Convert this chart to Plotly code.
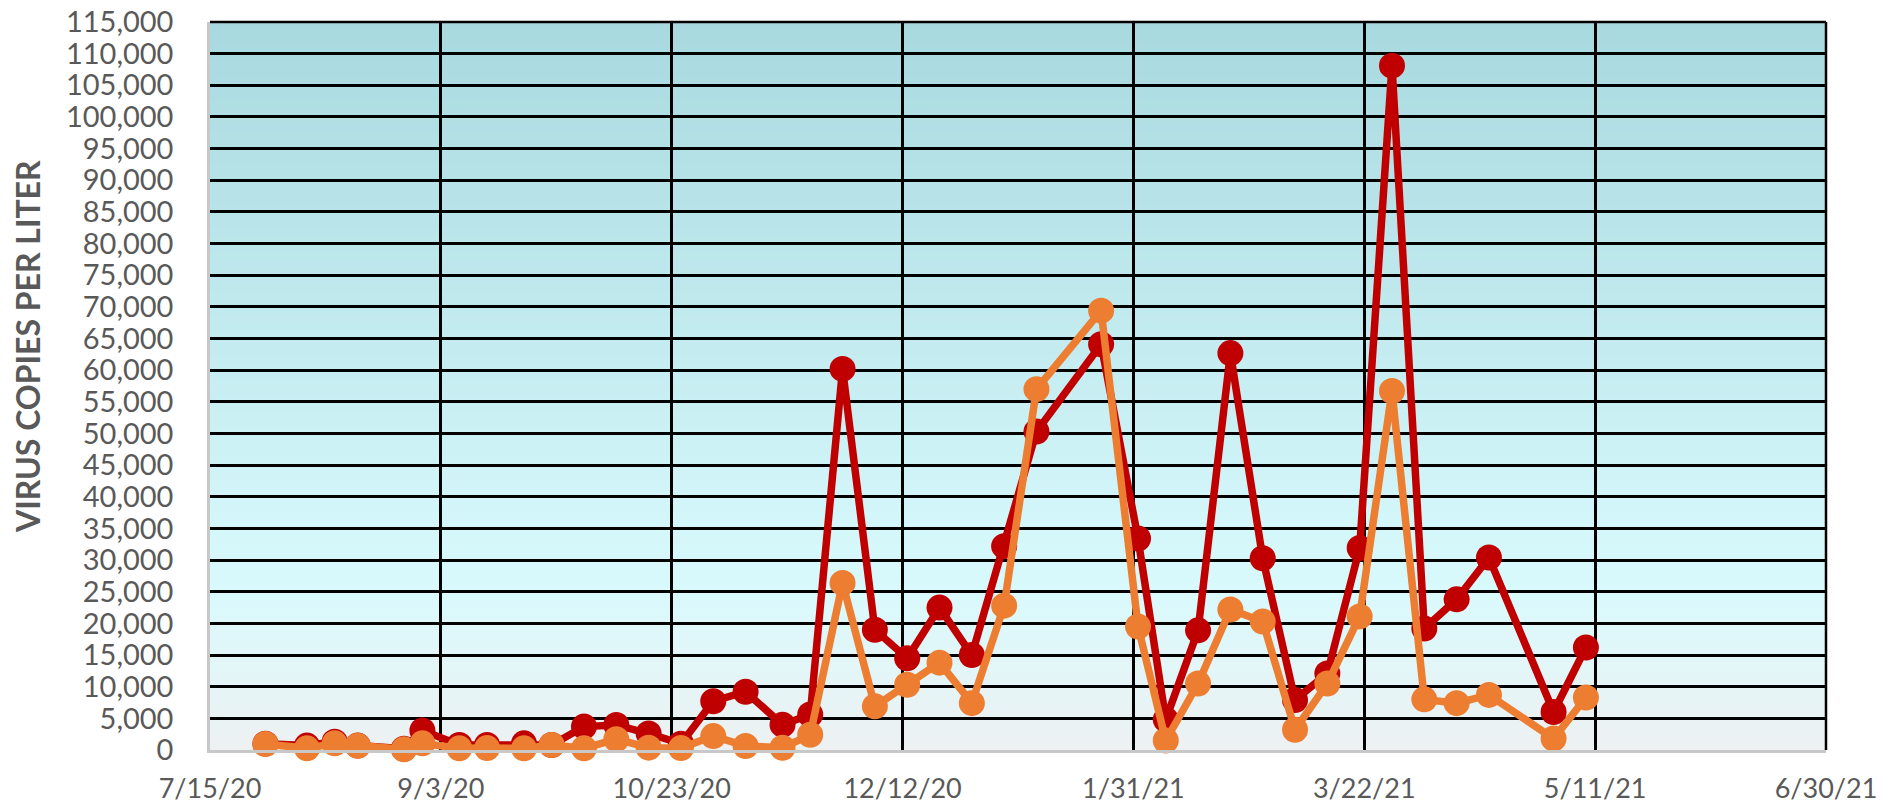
import plotly.graph_objects as go

# ---- data ----
dates = ["2020-07-27", "2020-08-05", "2020-08-11", "2020-08-16", "2020-08-26", "2020-08-30",
         "2020-09-07", "2020-09-13", "2020-09-21", "2020-09-27", "2020-10-04", "2020-10-11",
         "2020-10-18", "2020-10-25", "2020-11-01", "2020-11-08", "2020-11-16", "2020-11-22",
         "2020-11-29", "2020-12-06", "2020-12-13", "2020-12-20", "2020-12-27", "2021-01-03",
         "2021-01-10", "2021-01-24", "2021-02-01", "2021-02-07", "2021-02-14", "2021-02-21",
         "2021-02-28", "2021-03-07", "2021-03-14", "2021-03-21", "2021-03-28", "2021-04-04",
         "2021-04-11", "2021-04-18", "2021-05-02", "2021-05-09"]

series_red = [1000, 700, 1300, 700, 200, 3100, 800, 800, 1050, 800, 3700, 3950,
              2600, 1000, 7700, 9200, 4000, 5600, 60200, 19000, 14500, 22500, 15000, 32200,
              50300, 64100, 33400, 4800, 18900, 62700, 30300, 7900, 12100, 31900, 108100, 19200,
              23800, 30400, 6000, 16200]

series_orange = [950, 260, 1050, 680, 100, 1050, 260, 300, 260, 800, 260, 1700,
                 370, 300, 2200, 630, 360, 2400, 26400, 6900, 10300, 13800, 7400, 22800,
                 57000, 69400, 19500, 1500, 10500, 22200, 20300, 3200, 10500, 21100, 56700, 8000,
                 7400, 8700, 1800, 8300]

x_tick_vals = ["2020-07-15", "2020-09-03", "2020-10-23", "2020-12-12",
               "2021-01-31", "2021-03-22", "2021-05-11", "2021-06-30"]
x_tick_text = ["7/15/20", "9/3/20", "10/23/20", "12/12/20", "1/31/21", "3/22/21", "5/11/21", "6/30/21"]

y_max = 115000
y_step = 5000
y_title = "VIRUS COPIES PER LITER"

# ---- styles ----
RED = "#C00000"
ORANGE = "#ED7D31"
TXT = "#595959"
FONT = "Lato"


def hex2rgb(h):
    h = h.lstrip("#")
    return tuple(int(h[i:i + 2], 16) for i in (0, 2, 4))


grad_stops = [(0.0, hex2rgb("#EEF1F2")), (0.22, hex2rgb("#D9FAFD")), (1.0, hex2rgb("#A8D9DF"))]


def grad_color(t):
    for (t0, c0), (t1, c1) in zip(grad_stops[:-1], grad_stops[1:]):
        if t0 <= t <= t1:
            f = (t - t0) / (t1 - t0)
            c = tuple(round(a + (b - a) * f) for a, b in zip(c0, c1))
            return "rgb(%d,%d,%d)" % c
    return "rgb(%d,%d,%d)" % grad_stops[-1][1]


shapes = []
n_bands = 92
for i in range(n_bands):
    y0 = y_max * i / n_bands
    y1 = min(y_max, y_max * (i + 1.6) / n_bands)  # overlap to avoid seams
    shapes.append(dict(type="rect", xref="paper", yref="y", x0=0, x1=1, y0=y0, y1=y1,
                       fillcolor=grad_color((i + 0.5) / n_bands), line=dict(width=0), layer="below"))
# top and right black border
shapes.append(dict(type="line", xref="paper", yref="paper", x0=0, x1=1, y0=1, y1=1,
                   line=dict(color="black", width=2.5), layer="above"))
shapes.append(dict(type="line", xref="paper", yref="paper", x0=1, x1=1, y0=0, y1=1,
                   line=dict(color="black", width=2.5), layer="above"))

fig = go.Figure()
fig.add_trace(go.Scatter(x=dates, y=series_red, mode="lines+markers", name="Series 1",
                         line=dict(color=RED, width=7.5), marker=dict(color=RED, size=26),
                         cliponaxis=False))
fig.add_trace(go.Scatter(x=dates, y=series_orange, mode="lines+markers", name="Series 2",
                         line=dict(color=ORANGE, width=7.5), marker=dict(color=ORANGE, size=26),
                         cliponaxis=False))

fig.update_layout(
    width=1902, height=807,
    margin=dict(l=210, r=76, t=22, b=57),
    paper_bgcolor="white", plot_bgcolor="white",
    showlegend=False,
    shapes=shapes,
    font=dict(family=FONT, color=TXT, size=29),
    annotations=[dict(text="<b>%s</b>" % y_title, xref="paper", yref="paper",
                      x=-0.1126, y=0.5536, textangle=-90, showarrow=False,
                      font=dict(family=FONT, size=32, color=TXT), xanchor="center", yanchor="middle")],
)
fig.update_xaxes(
    type="date", range=[x_tick_vals[0], x_tick_vals[-1]], automargin=False,
    tickmode="array", tickvals=x_tick_vals, ticktext=x_tick_text,
    showgrid=True, gridcolor="black", gridwidth=2.5,
    showline=True, linecolor="#C8C8C8", linewidth=2.5,
    ticks="outside", ticklen=13, tickcolor="rgba(0,0,0,0)",
    tickfont=dict(family=FONT, size=27, color=TXT),
    zeroline=False,
)
fig.update_yaxes(
    range=[0, y_max], tick0=0, dtick=y_step, tickformat=",d", automargin=False,
    showgrid=True, gridcolor="black", gridwidth=2.5,
    showline=True, linecolor="#C8C8C8", linewidth=2.5,
    ticks="outside", ticklen=28, tickcolor="rgba(0,0,0,0)",
    tickfont=dict(family=FONT, size=29, color=TXT),
    zeroline=False,
)

fig.write_html("out.html", config={"displayModeBar": False},
               post_script="document.body.style.margin='0';document.body.style.overflow='hidden';")
